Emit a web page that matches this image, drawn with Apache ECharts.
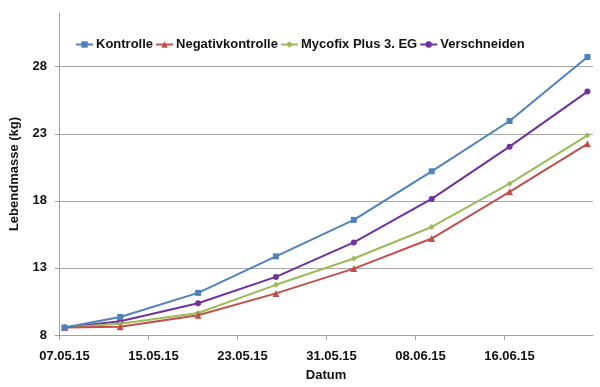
<!DOCTYPE html>
<html>
<head>
<meta charset="utf-8">
<script src="https://cdn.jsdelivr.net/npm/echarts@6/dist/echarts.min.js"></script>
<style>
html,body{margin:0;padding:0;background:#fff;}
#chart{width:600px;height:387px;}
</style>
</head>
<body>
<div id="chart"></div>
<script>
// Data
const dates = ['07.05.15','12.05.15','19.05.15','26.05.15','02.06.15','09.06.15','16.06.15','23.06.15'];
const kontrolle = [8.56, 9.34, 11.14, 13.86, 16.58, 20.2, 23.95, 28.72];
const negativkontrolle = [8.56, 8.62, 9.47, 11.10, 12.95, 15.19, 18.67, 22.25];
const mycofix = [8.56, 8.83, 9.64, 11.74, 13.7, 16.05, 19.28, 22.88];
const verschneiden = [8.56, 9.02, 10.37, 12.33, 14.9, 18.14, 22.04, 26.14];
const seriesNames = ['Kontrolle','Negativkontrolle','Mycofix Plus 3. EG','Verschneiden'];
const xTickLabels = ['07.05.15','15.05.15','23.05.15','31.05.15','08.06.15','16.06.15','24.06.15'];
const yTickValues = [8, 13, 18, 23, 28];

function toDay(s){
  const p = s.split('.');
  return Date.UTC(2000 + (+p[2]), (+p[1]) - 1, +p[0]) / 86400000;
}
const d0 = toDay(xTickLabels[0]);
const xs = dates.map(d => toDay(d) - d0 + 0.5);
const pairs = arr => arr.map((v, i) => [xs[i], v]);

const font = 'Liberation Sans, Arial, sans-serif';
const txt = '#111';
const colors = ['#4F81BD', '#C0504D', '#9BBB59', '#7030A0'];
const symbols = ['rect', 'triangle', 'diamond', 'circle'];
const sizes = [6, 7, 6, 6];
const values = [kontrolle, negativkontrolle, mycofix, verschneiden];

const chart = echarts.init(document.getElementById('chart'));
chart.setOption({
  animation: false,
  backgroundColor: '#fff',
  color: colors,
  grid: {left: 58, right: 7, top: 13, bottom: 47, containLabel: false},
  legend: {
    left: 70, top: 33,
    itemWidth: 17, itemHeight: 8, itemGap: 2,
    textStyle: {fontFamily: font, fontSize: 13, fontWeight: 'bold', color: txt, padding: [0, 0, 0, -2]},
    data: seriesNames
  },
  xAxis: {
    type: 'value', min: 0, max: 48, interval: 8,
    name: 'Datum', nameLocation: 'middle', nameGap: 34,
    nameTextStyle: {fontFamily: font, fontSize: 13, fontWeight: 'bold', color: txt},
    axisLine: {show: true, lineStyle: {color: '#a0a0a0', width: 1}},
    axisTick: {show: true, inside: false, length: 5, lineStyle: {color: '#a0a0a0'}},
    splitLine: {show: false},
    axisLabel: {
      fontFamily: font, fontSize: 13, fontWeight: 'bold', color: txt,
      margin: 15, showMaxLabel: false, padding: [0, 0, 0, 11],
      formatter: v => xTickLabels[Math.round(v / 8)] || ''
    }
  },
  yAxis: {
    type: 'value', min: 8, max: 32, interval: 5,
    name: 'Lebendmasse (kg)', nameLocation: 'middle', nameGap: 38, nameRotate: 90,
    nameTextStyle: {fontFamily: font, fontSize: 13, fontWeight: 'bold', color: txt},
    axisLine: {show: true, lineStyle: {color: '#a0a0a0', width: 1}},
    axisTick: {show: true, inside: false, length: 4, lineStyle: {color: '#a0a0a0'}, customValues: yTickValues},
    splitLine: {show: true, showMinLine: false, lineStyle: {color: '#a6a6a6', width: 1}},
    axisLabel: {
      fontFamily: font, fontSize: 13, fontWeight: 'bold', color: txt,
      margin: 12, customValues: yTickValues
    }
  },
  series: values.map((arr, i) => ({
    name: seriesNames[i],
    type: 'line',
    data: pairs(arr),
    symbol: symbols[i],
    symbolSize: sizes[i],
    showAllSymbol: true,
    lineStyle: {width: 2, color: colors[i]},
    itemStyle: {color: colors[i]},
    z: 10 - i
  }))
});
</script>
</body>
</html>
